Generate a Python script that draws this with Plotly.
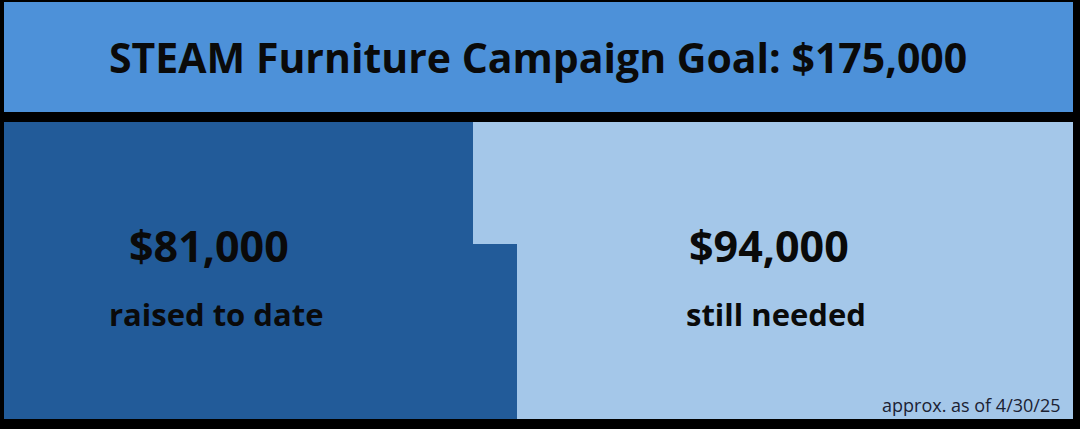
import plotly.graph_objects as go

# ---- data ----
goal = 175000
raised = 81000
needed = goal - raised
row_names = ["bottom", "top"]
row_raised = [84000, 76800]          # raised amount shown per row (step outline)
row_needed = [goal - v for v in row_raised]
row_centers = [87.5, 236]            # y units of the lower panel
row_heights = [175, 122]

title_text = "STEAM Furniture Campaign Goal: $175,000"
raised_label = "raised to date"
needed_label = "still needed"
note_text = "approx. as of 4/30/25"

DARK = "#225B99"
LIGHT = "#A4C7E9"
HEADER = "#4D91D9"

W, H = 1080, 429
ml, mr, mt, mb = 4, 7, 122, 10

fig = go.Figure()
fig.add_trace(go.Bar(y=row_centers, x=row_raised, width=row_heights, orientation="h",
                     marker=dict(color=DARK, line=dict(width=0)), hoverinfo="skip"))
fig.add_trace(go.Bar(y=row_centers, x=row_needed, width=row_heights, orientation="h",
                     marker=dict(color=LIGHT, line=dict(width=0)), hoverinfo="skip"))

ph = H - mt - mb
fig.add_shape(type="rect", xref="paper", yref="paper",
              x0=0, x1=1, y0=1 + 10 / ph, y1=1 + 120 / ph,
              fillcolor=HEADER, line=dict(width=0), layer="below")

def px(x, y):
    return (x - ml) / (W - ml - mr), (H - mb - y) / ph

font = "Open Sans"
anns = []
x, y = px(538, 57)
anns.append(dict(x=x, y=y, text=f"<b>{title_text}</b>", font=dict(size=41, color="#0a0a0a", family=font)))
x, y = px(209, 245)
anns.append(dict(x=x, y=y, text=f"<b>${raised:,}</b>", font=dict(size=43, color="#0a0a0a", family=font)))
x, y = px(216, 314)
anns.append(dict(x=x, y=y, text=f"<b>{raised_label}</b>", font=dict(size=31, color="#0a0a0a", family=font)))
x, y = px(769, 245)
anns.append(dict(x=x, y=y, text=f"<b>${needed:,}</b>", font=dict(size=43, color="#0a0a0a", family=font)))
x, y = px(776, 314)
anns.append(dict(x=x, y=y, text=f"<b>{needed_label}</b>", font=dict(size=31, color="#0a0a0a", family=font)))
x, y = px(1063, 405)
anns.append(dict(x=x, y=y, text=note_text, xanchor="right", font=dict(size=18, color="#1b2233", family=font)))
for a in anns:
    a.update(xref="paper", yref="paper", showarrow=False)
    a.setdefault("xanchor", "center")
    a["yanchor"] = "middle"

fig.update_layout(
    width=W, height=H, barmode="stack", showlegend=False,
    margin=dict(l=ml, r=mr, t=mt, b=mb, pad=0),
    paper_bgcolor="#000000", plot_bgcolor=LIGHT,
    xaxis=dict(range=[0, goal], visible=False, fixedrange=True),
    yaxis=dict(range=[0, ph], visible=False, fixedrange=True),
    annotations=anns,
)

fig.write_html("out.html", config={"displayModeBar": False},
               post_script="document.body.style.margin='0';document.body.style.background='#000';")
